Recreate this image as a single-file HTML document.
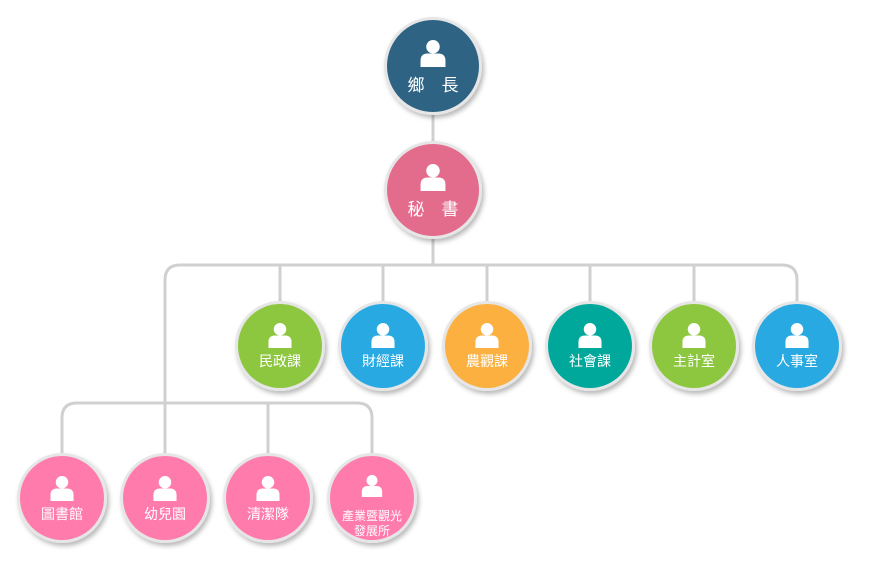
<!DOCTYPE html>
<html><head><meta charset="utf-8"><style>
html,body{margin:0;padding:0;background:#fff;}
svg{display:block;}
text{font-family:"Liberation Sans","Noto Sans CJK TC","Noto Sans CJK SC",sans-serif;fill:#fff;text-anchor:middle;}
</style></head><body>
<svg width="870" height="586" viewBox="0 0 870 586" xmlns="http://www.w3.org/2000/svg">
<defs>
<filter id="sh" x="-30%" y="-30%" width="160%" height="160%">
<feDropShadow dx="2" dy="3" stdDeviation="2.5" flood-color="#000" flood-opacity="0.28"/>
</filter>
<symbol id="ps" viewBox="0 0 24 26" overflow="visible">
<circle cx="12" cy="6.5" r="6.5" fill="#fff"/>
<path d="M0 26 V20 Q0 13 7 13 H17 Q24 13 24 20 V26 Z" fill="#fff"/>
</symbol>
</defs>

<g fill="none" stroke="#d0d0d0" stroke-width="3">
<path d="M433 66 V265"/>
<path d="M165 453 V280 Q165 265 180 265 H782 Q797 265 797 280 V301"/>
<path d="M280 265 V301 M383 265 V301 M487 265 V301 M590 265 V301 M694 265 V301"/>
<path d="M62 453 V418 Q62 403 77 403 H357 Q372 403 372 418 V453"/>
<path d="M268 403 V453"/>
</g>

<!-- top -->
<g>
<circle cx="433" cy="66" r="49" fill="#e6e6e6" filter="url(#sh)"/>
<circle cx="433" cy="66" r="46" fill="#2e6384"/>
<use href="#ps" x="419.5" y="40" width="27" height="27"/>
<text x="433" y="91" font-size="17">鄉　長</text>
</g>
<g>
<circle cx="433" cy="190" r="49" fill="#e6e6e6" filter="url(#sh)"/>
<circle cx="433" cy="190" r="46" fill="#e36b8c"/>
<use href="#ps" x="419.5" y="164" width="27" height="27"/>
<text x="433" y="215" font-size="17">秘　書</text>
</g>

<!-- middle row -->
<g>
<circle cx="280" cy="346" r="45" fill="#e6e6e6" filter="url(#sh)"/>
<circle cx="280" cy="346" r="42" fill="#8dc63f"/>
<use href="#ps" x="268" y="323" width="24" height="25"/>
<text x="280" y="366" font-size="14">民政課</text>
</g>
<g>
<circle cx="383" cy="346" r="45" fill="#e6e6e6" filter="url(#sh)"/>
<circle cx="383" cy="346" r="42" fill="#29a9e1"/>
<use href="#ps" x="371" y="323" width="24" height="25"/>
<text x="383" y="366" font-size="14">財經課</text>
</g>
<g>
<circle cx="487" cy="346" r="45" fill="#e6e6e6" filter="url(#sh)"/>
<circle cx="487" cy="346" r="42" fill="#fbb040"/>
<use href="#ps" x="475" y="323" width="24" height="25"/>
<text x="487" y="366" font-size="14">農觀課</text>
</g>
<g>
<circle cx="590" cy="346" r="45" fill="#e6e6e6" filter="url(#sh)"/>
<circle cx="590" cy="346" r="42" fill="#00a89b"/>
<use href="#ps" x="578" y="323" width="24" height="25"/>
<text x="590" y="366" font-size="14">社會課</text>
</g>
<g>
<circle cx="694" cy="346" r="45" fill="#e6e6e6" filter="url(#sh)"/>
<circle cx="694" cy="346" r="42" fill="#8dc63f"/>
<use href="#ps" x="682" y="323" width="24" height="25"/>
<text x="694" y="366" font-size="14">主計室</text>
</g>
<g>
<circle cx="797" cy="346" r="45" fill="#e6e6e6" filter="url(#sh)"/>
<circle cx="797" cy="346" r="42" fill="#29a9e1"/>
<use href="#ps" x="785" y="323" width="24" height="25"/>
<text x="797" y="366" font-size="14">人事室</text>
</g>

<!-- bottom row -->
<g>
<circle cx="62" cy="498" r="45" fill="#e6e6e6" filter="url(#sh)"/>
<circle cx="62" cy="498" r="42" fill="#ff7bac"/>
<use href="#ps" x="50" y="476" width="24" height="25"/>
<text x="62" y="519" font-size="14">圖書館</text>
</g>
<g>
<circle cx="165" cy="498" r="45" fill="#e6e6e6" filter="url(#sh)"/>
<circle cx="165" cy="498" r="42" fill="#ff7bac"/>
<use href="#ps" x="153" y="476" width="24" height="25"/>
<text x="165" y="519" font-size="14">幼兒園</text>
</g>
<g>
<circle cx="268" cy="498" r="45" fill="#e6e6e6" filter="url(#sh)"/>
<circle cx="268" cy="498" r="42" fill="#ff7bac"/>
<use href="#ps" x="256" y="476" width="24" height="25"/>
<text x="268" y="519" font-size="14">清潔隊</text>
</g>
<g>
<circle cx="372" cy="498" r="45" fill="#e6e6e6" filter="url(#sh)"/>
<circle cx="372" cy="498" r="42" fill="#ff7bac"/>
<use href="#ps" x="361" y="475" width="22" height="22"/>
<text x="372" y="520" font-size="12">產業暨觀光</text>
<text x="372" y="535" font-size="12">發展所</text>
</g>
</svg>
</body></html>
